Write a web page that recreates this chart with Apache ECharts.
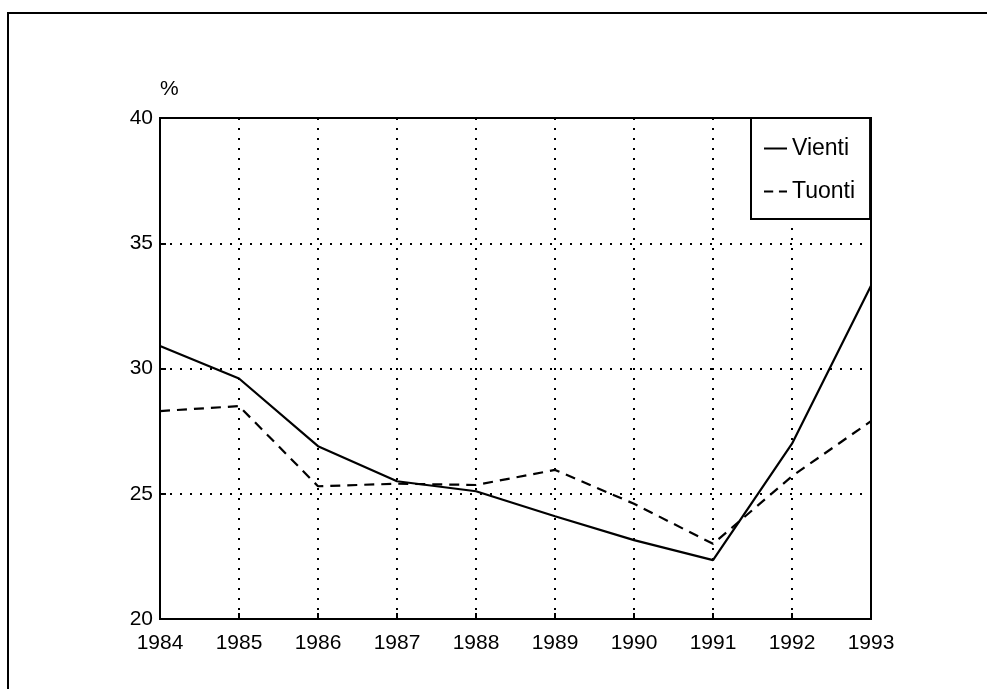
<!DOCTYPE html>
<html>
<head>
<meta charset="utf-8">
<script src="https://cdn.jsdelivr.net/npm/echarts@6/dist/echarts.min.js"></script>
<style>
html,body{margin:0;padding:0;background:#fff;}
#chart{width:987px;height:689px;}
</style>
</head>
<body>
<div id="chart"></div>
<script>
const years = ['1984','1985','1986','1987','1988','1989','1990','1991','1992','1993'];
const vienti = [30.9, 29.6, 26.9, 25.5, 25.1, 24.1, 23.15, 22.35, 27.0, 33.3];
const tuonti = [28.3, 28.5, 25.3, 25.4, 25.35, 25.95, 24.6, 23.0, 25.7, 27.9];
const yTicks = {min: 20, max: 40, interval: 5};
const yName = '%';

const font = 'Liberation Sans, Arial, Helvetica, sans-serif';
const chart = echarts.init(document.getElementById('chart'), null, {renderer: 'canvas'});
chart.setOption({
  animation: false,
  backgroundColor: '#fff',
  graphic: [{
    type: 'rect', shape: {x: 8, y: 13, width: 1200, height: 900},
    style: {fill: 'none', stroke: '#000', lineWidth: 2}, z: 0
  }],
  grid: {left: 160, top: 118, right: 116, bottom: 70, show: true, borderColor: '#000', borderWidth: 2, backgroundColor: 'transparent'},
  legend: {
    show: true,
    orient: 'vertical', left: 751, top: 118,
    backgroundColor: '#fff', borderColor: '#000', borderWidth: 2, borderRadius: 0,
    padding: [19, 15, 16, 13], itemGap: 20, itemWidth: 23, itemHeight: 2,
    symbolKeepAspect: false,
    textStyle: {fontFamily: font, fontSize: 23, color: '#000'},
    data: [
      {name: 'Vienti', icon: 'path://M0,0 H10 V1 H0 Z'},
      {name: 'Tuonti', icon: 'path://M0,0 H4 V1 H0 Z M6.5,0 H10 V1 H6.5 Z'}
    ]
  },
  xAxis: {
    type: 'category', data: years, boundaryGap: false,
    axisLine: {lineStyle: {color: '#000', width: 2}},
    axisTick: {show: true, inside: true, length: 6, lineStyle: {color: '#000', width: 2}},
    axisLabel: {fontFamily: font, fontSize: 21, color: '#000', margin: 14},
    splitLine: {show: true, lineStyle: {color: '#000', width: 2, type: [2, 8]}}
  },
  yAxis: {
    type: 'value', min: yTicks.min, max: yTicks.max, interval: yTicks.interval,
    name: yName, nameLocation: 'end', nameGap: 18,
    nameTextStyle: {fontFamily: font, fontSize: 21, color: '#000', align: 'left'},
    axisLine: {show: true, lineStyle: {color: '#000', width: 2}},
    axisTick: {show: true, inside: true, length: 6, lineStyle: {color: '#000', width: 2}},
    axisLabel: {fontFamily: font, fontSize: 21, color: '#000', margin: 7},
    splitLine: {show: true, lineStyle: {color: '#000', width: 2, type: [2, 8]}}
  },
  series: [
    {name: 'Vienti', type: 'line', data: vienti, symbol: 'none', z: 5,
     lineStyle: {color: '#000', width: 2.2, type: 'solid'}, itemStyle: {color: '#000'}},
    {name: 'Tuonti', type: 'line', data: tuonti, symbol: 'none', z: 5,
     lineStyle: {color: '#000', width: 2.2, type: [10, 7]}, itemStyle: {color: '#000'}}
  ]
});
</script>
</body>
</html>
